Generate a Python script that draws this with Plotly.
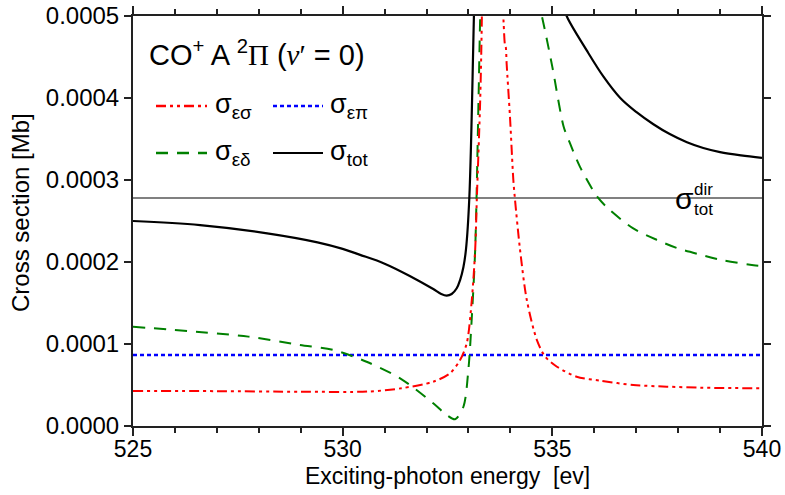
import plotly.graph_objects as go

# ---- data ----
energy_tot = [525.0, 526.6, 528.2, 529.4, 530.0, 530.4, 531.0, 531.6, 532.16, 532.35, 532.48,
              532.6, 532.72, 532.8, 532.88, 532.94, 533.02, 533.13, 533.3, 533.6, 534.0, 534.5,
              535.0, 535.25, 535.35, 535.82, 536.22, 536.62, 537.0, 537.41, 537.8, 538.21,
              538.6, 539.0, 539.5, 540.0]
sigma_tot = [0.000250, 0.000245, 0.000235, 0.000224, 0.000216, 0.000209, 0.000198, 0.000183,
             0.000167, 0.000161, 0.000159, 0.000161, 0.000168, 0.000178, 0.000194, 0.000215,
             0.000278, 0.000500, 0.00090, 0.00150, 0.00120, 0.00080, 0.00058, 0.000515, 0.000499,
             0.000458, 0.000426, 0.000400, 0.000383, 0.000368, 0.000356, 0.000346,
             0.000339, 0.000334, 0.000330, 0.000327]

energy_es = [525.0, 527.0, 529.0, 530.6, 531.4, 532.16, 532.56, 532.8, 532.96, 533.08, 533.16,
             533.2, 533.28, 533.32, 533.4, 533.55, 533.7, 533.8, 533.84, 533.87, 533.89, 533.91,
             533.99, 534.07, 534.11, 534.23, 534.39, 534.63, 534.83, 535.11, 535.58, 536.14,
             536.93, 537.73, 538.53, 540.0]
sigma_es = [0.0000427, 0.0000425, 0.0000418, 0.0000420, 0.000046, 0.000054, 0.0000643, 0.0000805,
            0.000101, 0.000154, 0.000215, 0.000278, 0.000398, 0.000500, 0.00090, 0.00120, 0.00080,
            0.00054, 0.00049, 0.000465, 0.000462, 0.000442, 0.000377, 0.000300, 0.000276, 0.000215,
            0.000154, 0.000105, 0.0000845, 0.0000723, 0.0000601, 0.0000553, 0.0000500, 0.0000480,
            0.0000467, 0.0000460]

energy_ed = [525.0, 527.75, 528.98, 529.78, 530.57, 531.37, 532.16, 532.48, 532.68, 532.88, 533.0,
             533.08, 533.16, 533.24, 533.28, 533.5, 534.0, 534.5, 534.75, 535.0, 535.27, 535.42,
             535.66, 536.08, 536.38, 536.93, 537.49, 537.97, 538.53, 539.08, 539.8, 540.0]
sigma_ed = [0.000121, 0.000109, 0.0000988, 0.0000927, 0.0000784, 0.0000582, 0.0000277, 0.0000134,
            0.0000082, 0.0000235, 0.0000700, 0.000133, 0.000215, 0.000398, 0.000500, 0.00090,
            0.00150, 0.00055, 0.000500, 0.000438, 0.000365, 0.000345, 0.000316, 0.000279, 0.000263,
            0.000241, 0.000227, 0.000217, 0.000209, 0.000202, 0.000196, 0.000195]

energy_ep = [525.0, 540.0]
sigma_ep = [0.0000866, 0.0000866]

energy_dir = [525.0, 540.0]
sigma_dir = [0.000278, 0.000278]

x_ticks = [525, 530, 535, 540]
y_ticks = [0.0, 0.0001, 0.0002, 0.0003, 0.0004, 0.0005]

FONT = "Liberation Sans, Arial, sans-serif"

RED_DASH = "10px,4px,3px,4px,3px,4px"
BLUE_DOT = "4px,3px"
GREEN_DASH = "12px,9px"

fig = go.Figure()
fig.add_trace(go.Scatter(x=energy_dir, y=sigma_dir, mode="lines",
                         line=dict(color="#808080", width=2), showlegend=False))
fig.add_trace(go.Scatter(x=energy_ep, y=sigma_ep, mode="lines",
                         line=dict(color="#0000ff", width=2.5, dash=BLUE_DOT), showlegend=False))
fig.add_trace(go.Scatter(x=energy_ed, y=sigma_ed, mode="lines",
                         line=dict(color="#008000", width=2, dash=GREEN_DASH, shape="spline",
                                   smoothing=0.8), showlegend=False))
fig.add_trace(go.Scatter(x=energy_es, y=sigma_es, mode="lines",
                         line=dict(color="#ff0000", width=2, dash=RED_DASH, shape="spline",
                                   smoothing=0.8), showlegend=False))
fig.add_trace(go.Scatter(x=energy_tot, y=sigma_tot, mode="lines",
                         line=dict(color="#000000", width=2.2, shape="spline", smoothing=1.0),
                         showlegend=False))

# plot area in pixels: x 133..762, y 16..426
def px(xp):
    return (xp - 133) / 629.0

def py(yp):
    return (426 - yp) / 410.0

shapes = []
legend_items = [
    (156, 207, 106, "#ff0000", RED_DASH, 2.5, "σ<sub>εσ</sub>", 213),
    (273, 323, 106, "#0000ff", BLUE_DOT, 2.5, "σ<sub>επ</sub>", 328),
    (156, 207, 153, "#008000", GREEN_DASH, 2.5, "σ<sub>εδ</sub>", 213),
    (273, 323, 153, "#000000", "solid", 2, "σ<sub>tot</sub>", 328),
]
annotations = []
for x0, x1, yy, col, dash, w, label, lx in legend_items:
    shapes.append(dict(type="line", xref="paper", yref="paper", x0=px(x0), x1=px(x1),
                       y0=py(yy), y1=py(yy), line=dict(color=col, width=w, dash=dash)))
    annotations.append(dict(xref="paper", yref="paper", x=px(lx), y=py(yy), text=label,
                            showarrow=False, xanchor="left", yanchor="middle",
                            font=dict(family=FONT, size=27, color="black")))

annotations.append(dict(
    xref="paper", yref="paper", x=px(147), y=py(53), xanchor="left", yanchor="middle",
    showarrow=False,
    text=("CO<sup>+</sup> A <sup>2</sup><span style='font-family:Liberation Serif'>Π</span> "
          "(<span style='font-family:Liberation Serif'><i>v</i>′</span> = 0)"),
    font=dict(family=FONT, size=29, color="black")))

annotations.append(dict(xref="paper", yref="paper", x=px(673), y=py(199), xanchor="left",
                        yanchor="middle", showarrow=False, text="σ",
                        font=dict(family=FONT, size=30, color="black")))
annotations.append(dict(xref="paper", yref="paper", x=px(692), y=py(189), xanchor="left",
                        yanchor="middle", showarrow=False, text="dir",
                        font=dict(family=FONT, size=17, color="black")))
annotations.append(dict(xref="paper", yref="paper", x=px(692), y=py(209), xanchor="left",
                        yanchor="middle", showarrow=False, text="tot",
                        font=dict(family=FONT, size=17, color="black")))

# axis titles
annotations.append(dict(xref="paper", yref="paper", x=px(448), y=py(476), xanchor="center",
                        yanchor="middle", showarrow=False, text="Exciting-photon energy &nbsp;[ev]",
                        font=dict(family=FONT, size=23, color="black")))
annotations.append(dict(xref="paper", yref="paper", x=px(20), y=py(213), xanchor="center",
                        yanchor="middle", showarrow=False, text="Cross section [Mb]", textangle=-90,
                        font=dict(family=FONT, size=24, color="black")))

fig.update_layout(
    width=785, height=495,
    margin=dict(l=133, r=23, t=16, b=69),
    paper_bgcolor="white", plot_bgcolor="white",
    font=dict(family=FONT, size=24, color="black"),
    shapes=shapes, annotations=annotations,
    showlegend=False,
)
fig.update_xaxes(
    range=[525, 540], tickvals=x_ticks, ticktext=[str(v) for v in x_ticks],
    showgrid=False, zeroline=False, automargin=False,
    showline=True, linecolor="#222222", linewidth=2, mirror="allticks",
    ticks="outside", ticklen=8, tickwidth=1.5, tickcolor="#222222",
    minor=dict(dtick=1, ticks="outside", ticklen=5, tickwidth=1.5, tickcolor="#222222"),
    tickfont=dict(size=23), ticklabelstandoff=-7,
)
fig.update_yaxes(
    range=[0, 0.0005], tickvals=y_ticks, tickformat=".4f",
    showgrid=False, zeroline=False, automargin=False,
    showline=True, linecolor="#222222", linewidth=2, mirror="allticks",
    ticks="outside", ticklen=7, tickwidth=1.5, tickcolor="#222222",
    tickfont=dict(size=24),
)

fig.write_html("out.html", config={"displayModeBar": False},
               post_script="document.body.style.margin='0';document.body.style.overflow='hidden';")
